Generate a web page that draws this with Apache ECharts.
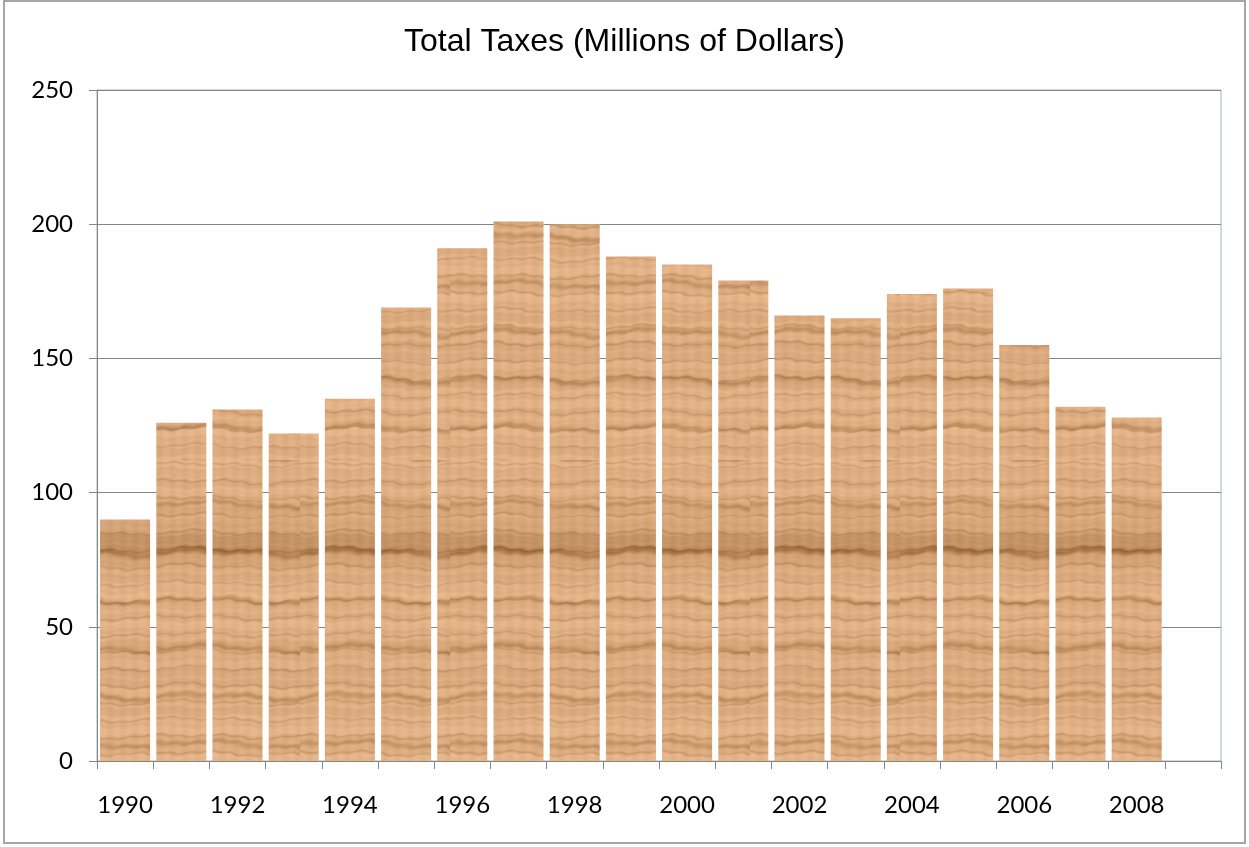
<!DOCTYPE html>
<html>
<head>
<meta charset="utf-8">
<script src="https://cdn.jsdelivr.net/npm/echarts@6/dist/echarts.min.js"></script>
<style>
html,body{margin:0;padding:0;background:#fff;}
#wrap{position:relative;width:1249px;height:847px;overflow:hidden;}
#frame{position:absolute;left:3px;top:0px;width:1243px;height:844px;border:2px solid #a6a6a6;box-sizing:border-box;pointer-events:none;z-index:2;}
#chart{position:absolute;left:0;top:0;width:1249px;height:847px;}
</style>
</head>
<body>
<div id="wrap"><div id="chart"></div><div id="frame"></div></div>
<script>
// Data
const years = ['1990','1991','1992','1993','1994','1995','1996','1997','1998','1999','2000','2001','2002','2003','2004','2005','2006','2007','2008','2009'];
const totalTaxes = [90, 126, 131, 122, 135, 169, 191, 201, 200, 188, 185, 179, 166, 165, 174, 176, 155, 132, 128, null];
const yTicks = [0, 50, 100, 150, 200, 250];

// Wood-grain texture (style only)
function woodPattern() {
  const w = 150, h = 460;
  const c = document.createElement('canvas');
  c.width = w; c.height = h;
  const ctx = c.getContext('2d');
  const img = ctx.createImageData(w, h);
  for (let y = 0; y < h; y++) {
    for (let x = 0; x < w; x++) {
      const yy = y + 1.4 * Math.sin(x * 0.09 + y * 0.05) + 0.7 * Math.sin(x * 0.31 + y * 0.2);
      let v = 0;
      v += 0.45 * Math.sin(yy * 0.47);
      v += 0.35 * Math.sin(yy * 0.19 + 1.3);
      v += 0.25 * Math.sin(yy * 1.13 + 0.7);
      v += 0.3 * Math.sin(yy * 0.043 + 2.1);
      let d = Math.pow(Math.max(0, Math.sin(yy * 0.37 + 0.6 * Math.sin(x * 0.04))), 10) * 0.9;
      let d2 = Math.pow(Math.max(0, Math.sin(yy * 0.131 + 2.0 + 0.4 * Math.sin(x * 0.03))), 16);
      let band = Math.pow(Math.max(0, Math.sin(yy * 0.0137 + 0.4)), 30);
      let s = v * 8 - d * 20 - d2 * 28 - band * 25 + 3 * Math.sin(x * 0.5);
      const i = (y * w + x) * 4;
      img.data[i] = Math.max(0, Math.min(255, 222 + s));
      img.data[i + 1] = Math.max(0, Math.min(255, 174 + s * 1.05));
      img.data[i + 2] = Math.max(0, Math.min(255, 130 + s * 1.1));
      img.data[i + 3] = 255;
    }
  }
  ctx.putImageData(img, 0, 0);
  return c;
}

const chart = echarts.init(document.getElementById('chart'), null, {renderer: 'canvas'});
const gridColor = '#868686';
chart.setOption({
  animation: false,
  backgroundColor: '#ffffff',
  title: {
    text: 'Total Taxes (Millions of Dollars)',
    left: 'center',
    top: 21,
    textStyle: {fontFamily: 'Liberation Sans', fontSize: 32, fontWeight: 'normal', color: '#000'}
  },
  grid: {left: 97, right: 28, top: 90, bottom: 86, show: true, borderColor: '#a9b3bf', borderWidth: 1},
  xAxis: {
    type: 'category',
    data: years,
    boundaryGap: true,
    axisLine: {lineStyle: {color: gridColor, width: 1}},
    axisTick: {show: true, interval: 0, length: 8, lineStyle: {color: gridColor}},
    axisLabel: {interval: 1, margin: 32, fontFamily: 'Lato', fontSize: 24, color: '#000'},
    splitLine: {show: false}
  },
  yAxis: {
    type: 'value',
    min: 0, max: 250, interval: 50,
    axisLine: {show: true, lineStyle: {color: gridColor, width: 1}},
    axisTick: {show: true, length: 8, inside: false, lineStyle: {color: gridColor}},
    axisLabel: {margin: 24, fontFamily: 'Lato', fontSize: 24, color: '#000',
      formatter: v => yTicks.includes(v) ? String(v) : ''},
    splitLine: {show: true, lineStyle: {color: gridColor, width: 1}}
  },
  series: [{
    type: 'bar',
    data: totalTaxes,
    barCategoryGap: '11%',
    itemStyle: {color: {image: woodPattern(), repeat: 'repeat'}}
  }]
});
</script>
</body>
</html>
